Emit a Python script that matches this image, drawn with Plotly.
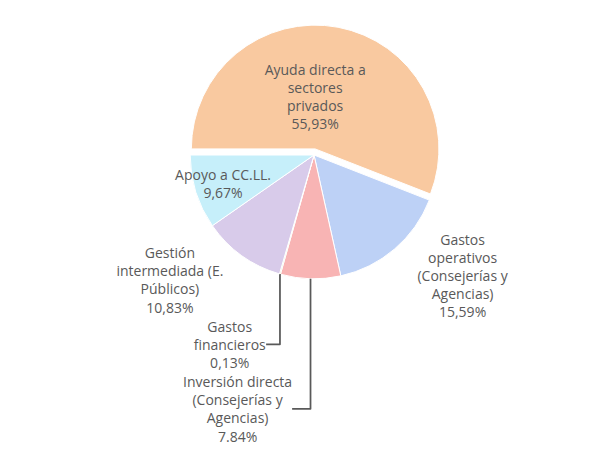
import plotly.graph_objects as go

labels = [
    "Ayuda directa a sectores privados",
    "Gastos operativos (Consejerías y Agencias)",
    "Inversión directa (Consejerías y Agencias)",
    "Gastos financieros",
    "Gestión intermediada (E. Públicos)",
    "Apoyo a CC.LL.",
]
values = [55.93, 15.59, 7.84, 0.13, 10.83, 9.67]
display_labels = [
    "Ayuda directa a<br>sectores<br>privados<br>55,93%",
    "Gastos<br>operativos<br>(Consejerías y<br>Agencias)<br>15,59%",
    "Inversión directa<br>(Consejerías y<br>Agencias)<br>7.84%",
    "Gastos<br>financieros<br>0,13%",
    "Gestión<br>intermediada (E.<br>Públicos)<br>10,83%",
    "Apoyo a CC.LL.<br>9,67%",
]
colors = ["#F9C9A0", "#BDD1F6", "#F8B4B4", "#C5E88A", "#D8CBEA", "#C6EFFA"]
positions = ["inside", "outside", "outside", "outside", "outside", "inside"]
pulls = [0.05, 0, 0, 0, 0, 0]

fig = go.Figure(
    go.Pie(
        labels=labels,
        values=values,
        text=display_labels,
        textinfo="text",
        textposition=positions,
        insidetextorientation="horizontal",
        sort=False,
        direction="clockwise",
        rotation=270,
        pull=pulls,
        marker=dict(colors=colors, line=dict(color="#FFFFFF", width=1)),
        textfont=dict(family="Open Sans", size=14, color="#595959"),
        outsidetextfont=dict(family="Open Sans", size=14, color="#595959"),
        insidetextfont=dict(family="Open Sans", size=14, color="#595959"),
        showlegend=False,
        hoverinfo="label+percent",
        domain=dict(x=[0.0, 1.0], y=[0.0, 1.0]),
    )
)

fig.update_layout(
    width=609,
    height=455,
    margin=dict(l=10, r=10, t=10, b=10),
    paper_bgcolor="#FFFFFF",
    plot_bgcolor="#FFFFFF",
    uniformtext=dict(minsize=12, mode="show"),
)

fig.write_html("out.html")
